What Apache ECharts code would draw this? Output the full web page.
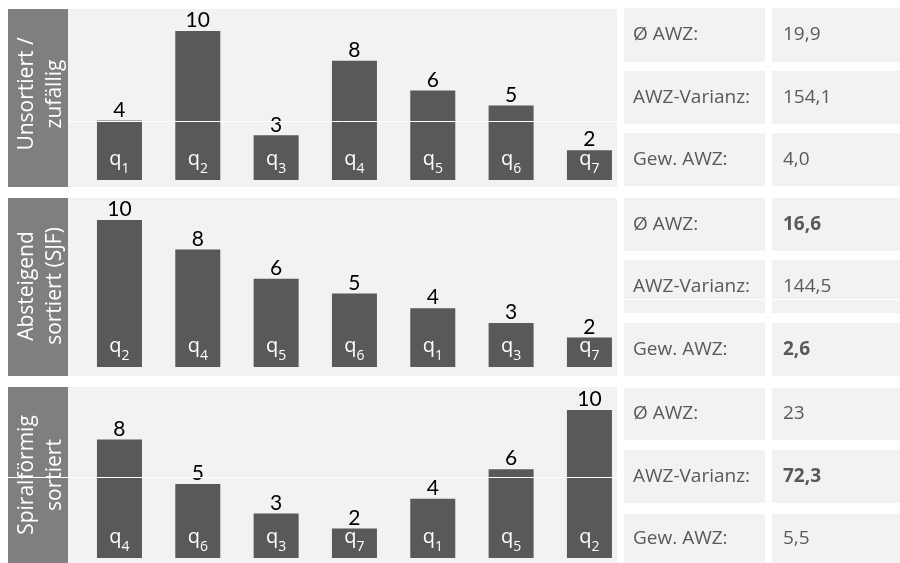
<!DOCTYPE html>
<html>
<head>
<meta charset="utf-8">
<script src="https://cdn.jsdelivr.net/npm/echarts@6/dist/echarts.min.js"></script>
<style>
  html, body { margin: 0; padding: 0; background: #ffffff; }
  #chart { width: 900px; height: 563px; }
</style>
</head>
<body>
<div id="chart"></div>
<script>
// Scheduling orders: job index per bar and its run time
const rowTitles = ['Unsortiert /\nzufällig', 'Absteigend\nsortiert (SJF)', 'Spiralförmig\nsortiert'];

const jobsUnsorted = ['1', '2', '3', '4', '5', '6', '7'];
const timesUnsorted = [4, 10, 3, 8, 6, 5, 2];

const jobsSjf = ['2', '4', '5', '6', '1', '3', '7'];
const timesSjf = [10, 8, 6, 5, 4, 3, 2];

const jobsSpiral = ['4', '6', '3', '7', '1', '5', '2'];
const timesSpiral = [8, 5, 3, 2, 4, 6, 10];

// Key figures shown next to each order
const statNames = ['Ø AWZ:', 'AWZ-Varianz:', 'Gew. AWZ:'];
const statsUnsorted = ['19,9', '154,1', '4,0'];
const statsSjf = ['16,6', '144,5', '2,6'];
const statsSpiral = ['23', '72,3', '5,5'];
const bestUnsorted = [false, false, false];
const bestSjf = [true, false, true];
const bestSpiral = [false, true, false];

const panels = [
  { title: rowTitles[0], jobs: jobsUnsorted, times: timesUnsorted, stats: statsUnsorted, best: bestUnsorted },
  { title: rowTitles[1], jobs: jobsSjf, times: timesSjf, stats: statsSjf, best: bestSjf },
  { title: rowTitles[2], jobs: jobsSpiral, times: timesSpiral, stats: statsSpiral, best: bestSpiral }
];

// Pixel layout of the three rows
const layout = [
  { top: 9,   bottom: 187, plotTop: 31,  plotBottom: 180, titleY: 94,  rows: [[8, 62], [71, 124], [133, 186]] },
  { top: 198, bottom: 376, plotTop: 220, plotBottom: 367, titleY: 286, rows: [[198, 251], [260, 313], [323, 376]] },
  { top: 387, bottom: 563, plotTop: 410, plotBottom: 558, titleY: 475, rows: [[388, 440], [450, 503], [514, 563]] }
];

const BAR = '#595959';
const SIDE = '#7f7f7f';
const PANEL = '#f2f2f2';
const TEXT = '#595959';
const SANS = '"Open Sans", "Noto Sans", sans-serif';

const grids = [], xAxes = [], yAxes = [], series = [], graphics = [];

panels.forEach((p, i) => {
  const L = layout[i];

  grids.push({ left: 80.3, width: 548.3, top: L.plotTop, height: L.plotBottom - L.plotTop, containLabel: false });
  xAxes.push({ type: 'category', gridIndex: i, data: p.jobs, show: false });
  yAxes.push({ type: 'value', gridIndex: i, min: 0, max: 10, show: false });

  // bars with their run time on top
  series.push({
    type: 'bar', xAxisIndex: i, yAxisIndex: i, data: p.times,
    barWidth: 45, barGap: '-100%', silent: true,
    itemStyle: { color: BAR },
    label: {
      show: true, position: 'top', distance: 0,
      color: '#000000', fontFamily: 'Lato, "Open Sans", sans-serif', fontSize: 21,
      formatter: '{c}'
    }
  });
  // job names written inside the foot of each bar
  series.push({
    type: 'bar', xAxisIndex: i, yAxisIndex: i, data: p.times,
    barWidth: 45, barGap: '-100%', silent: true,
    itemStyle: { color: 'rgba(0,0,0,0)' },
    label: {
      show: true, position: 'insideBottom', distance: 4,
      formatter: (d) => '{q|q}{s|' + p.jobs[d.dataIndex] + '}',
      rich: {
        q: { fontFamily: SANS, fontSize: 20, color: '#ffffff', lineHeight: 27, verticalAlign: 'top' },
        s: { fontFamily: SANS, fontSize: 14, color: '#ffffff', verticalAlign: 'bottom' }
      }
    }
  });

  // side caption and panel backgrounds
  graphics.push({ type: 'rect', z: 0, shape: { x: 8, y: L.top, width: 60, height: L.bottom - L.top }, style: { fill: SIDE } });
  graphics.push({ type: 'rect', z: 0, shape: { x: 68, y: L.top, width: 549, height: L.bottom - L.top }, style: { fill: PANEL } });
  graphics.push({
    type: 'text', z: 1, x: 41, y: L.titleY, rotation: Math.PI / 2,
    style: {
      text: p.title, fill: '#ffffff', font: '21px ' + SANS,
      align: 'center', verticalAlign: 'middle', lineHeight: 28
    }
  });

  // key figure table
  L.rows.forEach((r, k) => {
    const mid = (r[0] + r[1]) / 2;
    graphics.push({ type: 'rect', z: 0, shape: { x: 624, y: r[0], width: 141, height: r[1] - r[0] }, style: { fill: PANEL } });
    graphics.push({ type: 'rect', z: 0, shape: { x: 772, y: r[0], width: 128, height: r[1] - r[0] }, style: { fill: PANEL } });
    graphics.push({
      type: 'text', z: 1, x: 633, y: mid,
      style: { text: statNames[k], fill: TEXT, font: '19px ' + SANS, verticalAlign: 'middle' }
    });
    graphics.push({
      type: 'text', z: 1, x: 783, y: mid,
      style: { text: p.stats[k], fill: TEXT, font: (p.best[k] ? 'bold ' : '') + '19px ' + SANS, verticalAlign: 'middle' }
    });
  });
});

// thin white hairlines crossing the slide
graphics.push({ type: 'line', z: 50, shape: { x1: 68, y1: 121.5, x2: 617, y2: 121.5 }, style: { stroke: '#ffffff', lineWidth: 1 } });
graphics.push({ type: 'line', z: 50, shape: { x1: 624, y1: 299.5, x2: 900, y2: 299.5 }, style: { stroke: '#ffffff', lineWidth: 1 } });
graphics.push({ type: 'line', z: 50, shape: { x1: 8, y1: 477.5, x2: 617, y2: 477.5 }, style: { stroke: '#ffffff', lineWidth: 1 } });

const chart = echarts.init(document.getElementById('chart'), null, { renderer: 'canvas' });
chart.setOption({
  animation: false,
  backgroundColor: '#ffffff',
  grid: grids,
  xAxis: xAxes,
  yAxis: yAxes,
  series: series,
  graphic: { elements: graphics }
});
</script>
</body>
</html>
